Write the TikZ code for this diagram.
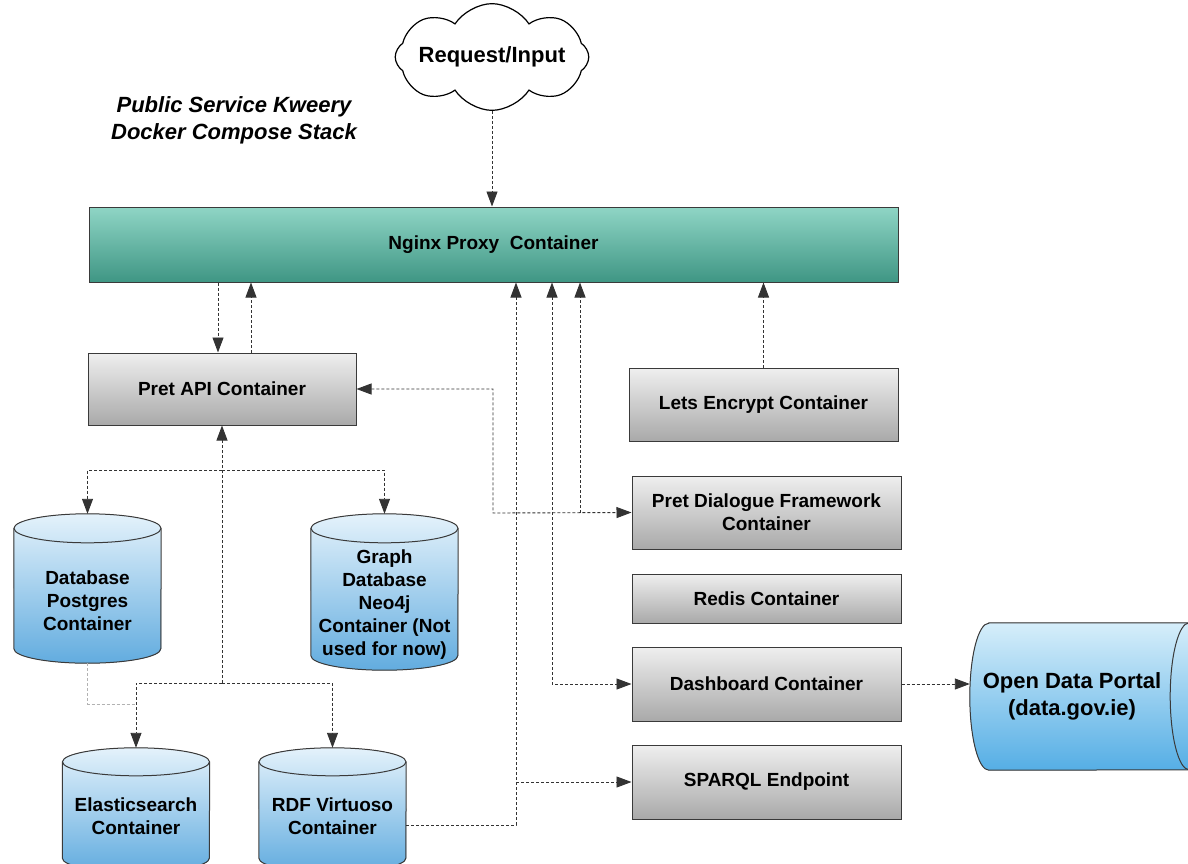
\documentclass[tikz,border=0pt]{standalone}
\usepackage{fontspec}
\setmainfont{Liberation Sans}
\usetikzlibrary{positioning, shapes.symbols, arrows.meta}

\definecolor{ngxtop}{HTML}{8FD5C5}
\definecolor{ngxbot}{HTML}{3F9684}
\definecolor{graytop}{HTML}{EFEFEF}
\definecolor{graybot}{HTML}{A9A9A9}
\definecolor{bluetop}{HTML}{E4F2FB}
\definecolor{bluebot}{HTML}{62ACDF}
\definecolor{odptop}{HTML}{D6EEFA}
\definecolor{odpbot}{HTML}{55AEE5}
\definecolor{boxline}{HTML}{3A3A3A}
\definecolor{wire}{HTML}{333333}

% upright data store drawn round a named node: #1 node, #2 cap radius
\newcommand\dbcyl[2]{%
	\fill[top color=bluetop, bottom color=bluebot] ([yshift=-#2]#1.north west) arc[start angle=180, end angle=0, x radius=73.5pt, y radius=#2] -- ([yshift=#2]#1.south east) arc[start angle=0, end angle=-180, x radius=73.5pt, y radius=#2] -- cycle;
	\draw[boxline, line width=1pt] ([yshift=-#2]#1.north west) -- ([yshift=#2]#1.south west) arc[start angle=180, end angle=360, x radius=73.5pt, y radius=#2] -- ([yshift=-#2]#1.north east);
	\draw[boxline, line width=1pt] ([yshift=-#2]#1.north) ellipse[x radius=73.5pt, y radius=#2];
}

\begin{document}
\begin{tikzpicture}[x=1pt, y=-1pt,
	box/.style={draw=boxline, line width=1pt, top color=graytop, bottom color=graybot, minimum width=269pt, inner sep=0pt, align=center, font=\fontsize{19}{23}\selectfont\bfseries},
	dbase/.style={minimum width=147pt, inner sep=0pt},
	dbtext/.style={align=center, inner sep=0pt, font=\fontsize{19}{23}\selectfont\bfseries},
	flow/.style={draw=wire, line width=0.9pt, dash pattern=on 3pt off 2pt, -{Triangle[length=15pt, width=11pt]}},
	twoway/.style={flow, {Triangle[length=15pt, width=11pt]}-{Triangle[length=15pt, width=11pt]}},
	faint/.style={draw=gray!60, line width=0.9pt, dash pattern=on 3pt off 2pt}]
	\useasboundingbox (0,0) rectangle (1188,863);

	% title and input
	\node[align=center, font=\fontsize{22}{27}\selectfont\bfseries\itshape] (title) at (234,120) {Public Service Kweery\\Docker Compose Stack};
	\node[cloud, draw, line width=1.2pt, fill=white, cloud puffs=8, cloud puff arc=115, aspect=2.7, inner xsep=-5pt, inner ysep=-9pt, minimum width=150pt, minimum height=60pt, font=\fontsize{22}{26}\selectfont\bfseries] (req) at (492,57) {Request/Input};

	% containers
	\node[box, top color=ngxtop, bottom color=ngxbot, minimum width=809pt, minimum height=75pt] (ngx) at (493.5,244.5) {Nginx Proxy\ \ Container};
	\node[box, minimum width=268pt, minimum height=72pt] (api) at (222,389) {Pret API Container};
	\node[box, minimum height=73pt] (le) at (763.5,404.5) {Lets Encrypt Container};
	\node[box, minimum height=73pt] (pdf) at (766.5,512.5) {Pret Dialogue Framework\\Container};
	\node[box, minimum height=49pt] (redis) at (766.5,598.5) {Redis Container};
	\node[box, minimum height=74pt] (dash) at (766.5,684) {Dashboard Container};
	\node[box, minimum height=74pt] (sparql) at (766.5,782) {SPARQL Endpoint};

	% data stores
	\node[dbase, minimum height=149pt] (pg) at (87.5,588.5) {};
	\node[dbase, minimum height=156pt] (neo) at (384.5,592) {};
	\node[dbase, minimum height=124pt] (es) at (136,810) {};
	\node[dbase, minimum height=124pt] (rdf) at (332.5,810) {};
	\node[minimum width=238pt, minimum height=147pt, inner sep=0pt] (odp) at (1089,696.5) {};
	\dbcyl{pg}{14.5pt}
	\dbcyl{neo}{14.5pt}
	\dbcyl{es}{14pt}
	\dbcyl{rdf}{14pt}
	\fill[top color=odptop, bottom color=odpbot] ([xshift=19pt]odp.north west) -- ([xshift=-19pt]odp.north east) arc[start angle=90, end angle=-90, x radius=19pt, y radius=73.5pt] -- ([xshift=19pt]odp.south west) arc[start angle=270, end angle=90, x radius=19pt, y radius=73.5pt] -- cycle;
	\draw[boxline, line width=1pt] ([xshift=19pt]odp.north west) -- ([xshift=-19pt]odp.north east) arc[start angle=90, end angle=-90, x radius=19pt, y radius=73.5pt] -- ([xshift=19pt]odp.south west) arc[start angle=270, end angle=90, x radius=19pt, y radius=73.5pt] -- cycle;
	\draw[boxline, line width=1pt] ([xshift=-19pt]odp.north east) arc[start angle=90, end angle=270, x radius=19pt, y radius=73.5pt];

	\node[dbtext] (pgT) at (87.5,601) {Database\\Postgres\\Container};
	\node[dbtext] (neoT) at (384.5,605) {Graph\\Database\\Neo4j\\Container (Not\\used for now)};
	\node[dbtext] (esT) at (136,816) {Elasticsearch\\Container};
	\node[dbtext] (rdfT) at (332.5,816) {RDF Virtuoso\\Container};
	\node[dbtext, font=\fontsize{22}{27}\selectfont\bfseries] (odpT) at (1072,696) {Open Data Portal\\(data.gov.ie)};

	% junctions
	\coordinate (tA) at (222,470);
	\coordinate (tB) at (222,683);
	\coordinate (jE) at (135,704);
	\coordinate (jD) at (493,513);
	\coordinate (xP) at (580,0);
	\coordinate (xD) at (552,0);
	\coordinate (xR) at (516,0);
	\coordinate (rOut) at (406,825);

	% connectors
	\draw[flow] (req.south) -- (req.south |- ngx.north);
	\draw[flow] ([xshift=-4pt]api.north |- ngx.south) -- ([xshift=-4pt]api.north);
	\draw[flow] ([xshift=29pt]api.north) -- ([xshift=29pt]api.north |- ngx.south);
	\draw[flow] (le.north) -- (le.north |- ngx.south);
	\draw[twoway] (api.east) -| (jD) -- (pdf.west);
	\draw[flow] (xP |- pdf.west) -- (xP |- ngx.south);
	\draw[twoway] (xD |- ngx.south) |- (dash.west);
	\draw[flow] (rOut) -| (xR |- ngx.south);
	\draw[flow] (xR |- sparql.west) -- (sparql.west);
	\draw[flow] (dash.east) -- (dash.east -| odp.west);

	\draw[flow] (tB) -- (api.south);
	\draw[flow] (tA) -| (pg.north);
	\draw[flow] (tA) -| (neo.north);
	\draw[flow] (tB) -| (es.north);
	\draw[flow] (tB) -| (rdf.north);
	\draw[faint] (pg.south) |- (jE);
\end{tikzpicture}
\end{document}
